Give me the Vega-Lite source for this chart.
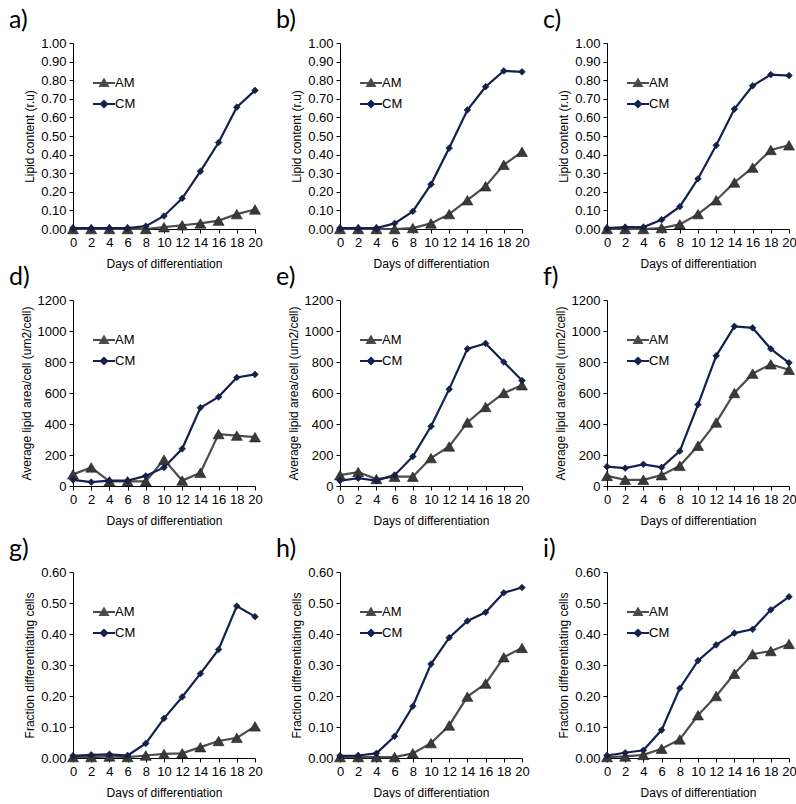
{
 "$schema": "https://vega.github.io/schema/vega-lite/v6.json",
 "padding": {"left": 9, "top": 8, "right": 0, "bottom": 0},
 "background": "white",
 "datasets": {
  "series": [
   {"p":"a","d":0,"AM":0,"CM":0.005},{"p":"a","d":2,"AM":0,"CM":0.005},{"p":"a","d":4,"AM":0,"CM":0.005},{"p":"a","d":6,"AM":0,"CM":0.005},{"p":"a","d":8,"AM":0,"CM":0.015},{"p":"a","d":10,"AM":0.01,"CM":0.07},{"p":"a","d":12,"AM":0.02,"CM":0.165},{"p":"a","d":14,"AM":0.03,"CM":0.31},{"p":"a","d":16,"AM":0.045,"CM":0.465},{"p":"a","d":18,"AM":0.08,"CM":0.655},{"p":"a","d":20,"AM":0.105,"CM":0.745},
   {"p":"b","d":0,"AM":0,"CM":0.005},{"p":"b","d":2,"AM":0,"CM":0.005},{"p":"b","d":4,"AM":0,"CM":0.005},{"p":"b","d":6,"AM":0,"CM":0.03},{"p":"b","d":8,"AM":0.005,"CM":0.095},{"p":"b","d":10,"AM":0.03,"CM":0.24},{"p":"b","d":12,"AM":0.08,"CM":0.435},{"p":"b","d":14,"AM":0.155,"CM":0.64},{"p":"b","d":16,"AM":0.23,"CM":0.765},{"p":"b","d":18,"AM":0.345,"CM":0.85},{"p":"b","d":20,"AM":0.415,"CM":0.845},
   {"p":"c","d":0,"AM":0,"CM":0.005},{"p":"c","d":2,"AM":0,"CM":0.01},{"p":"c","d":4,"AM":0,"CM":0.01},{"p":"c","d":6,"AM":0.005,"CM":0.05},{"p":"c","d":8,"AM":0.025,"CM":0.12},{"p":"c","d":10,"AM":0.08,"CM":0.27},{"p":"c","d":12,"AM":0.155,"CM":0.45},{"p":"c","d":14,"AM":0.25,"CM":0.645},{"p":"c","d":16,"AM":0.33,"CM":0.77},{"p":"c","d":18,"AM":0.425,"CM":0.83},{"p":"c","d":20,"AM":0.45,"CM":0.825},
   {"p":"d","d":0,"AM":75,"CM":40},{"p":"d","d":2,"AM":120,"CM":25},{"p":"d","d":4,"AM":30,"CM":35},{"p":"d","d":6,"AM":30,"CM":35},{"p":"d","d":8,"AM":30,"CM":65},{"p":"d","d":10,"AM":170,"CM":120},{"p":"d","d":12,"AM":35,"CM":240},{"p":"d","d":14,"AM":85,"CM":505},{"p":"d","d":16,"AM":335,"CM":575},{"p":"d","d":18,"AM":325,"CM":700},{"p":"d","d":20,"AM":315,"CM":720},
   {"p":"e","d":0,"AM":70,"CM":35},{"p":"e","d":2,"AM":90,"CM":50},{"p":"e","d":4,"AM":45,"CM":35},{"p":"e","d":6,"AM":60,"CM":70},{"p":"e","d":8,"AM":60,"CM":190},{"p":"e","d":10,"AM":180,"CM":385},{"p":"e","d":12,"AM":255,"CM":625},{"p":"e","d":14,"AM":410,"CM":885},{"p":"e","d":16,"AM":510,"CM":920},{"p":"e","d":18,"AM":600,"CM":800},{"p":"e","d":20,"AM":650,"CM":680},
   {"p":"f","d":0,"AM":65,"CM":125},{"p":"f","d":2,"AM":40,"CM":115},{"p":"f","d":4,"AM":40,"CM":140},{"p":"f","d":6,"AM":70,"CM":120},{"p":"f","d":8,"AM":130,"CM":225},{"p":"f","d":10,"AM":260,"CM":525},{"p":"f","d":12,"AM":410,"CM":840},{"p":"f","d":14,"AM":600,"CM":1030},{"p":"f","d":16,"AM":725,"CM":1020},{"p":"f","d":18,"AM":785,"CM":885},{"p":"f","d":20,"AM":750,"CM":795},
   {"p":"g","d":0,"AM":0.003,"CM":0.007},{"p":"g","d":2,"AM":0.003,"CM":0.01},{"p":"g","d":4,"AM":0.005,"CM":0.012},{"p":"g","d":6,"AM":0.003,"CM":0.008},{"p":"g","d":8,"AM":0.008,"CM":0.047},{"p":"g","d":10,"AM":0.013,"CM":0.128},{"p":"g","d":12,"AM":0.015,"CM":0.197},{"p":"g","d":14,"AM":0.035,"CM":0.272},{"p":"g","d":16,"AM":0.055,"CM":0.35},{"p":"g","d":18,"AM":0.065,"CM":0.49},{"p":"g","d":20,"AM":0.102,"CM":0.456},
   {"p":"h","d":0,"AM":0.003,"CM":0.007},{"p":"h","d":2,"AM":0.003,"CM":0.008},{"p":"h","d":4,"AM":0.003,"CM":0.015},{"p":"h","d":6,"AM":0.003,"CM":0.07},{"p":"h","d":8,"AM":0.015,"CM":0.167},{"p":"h","d":10,"AM":0.048,"CM":0.303},{"p":"h","d":12,"AM":0.105,"CM":0.388},{"p":"h","d":14,"AM":0.198,"CM":0.442},{"p":"h","d":16,"AM":0.24,"CM":0.47},{"p":"h","d":18,"AM":0.325,"CM":0.533},{"p":"h","d":20,"AM":0.355,"CM":0.55},
   {"p":"i","d":0,"AM":0.003,"CM":0.008},{"p":"i","d":2,"AM":0.005,"CM":0.017},{"p":"i","d":4,"AM":0.01,"CM":0.025},{"p":"i","d":6,"AM":0.03,"CM":0.09},{"p":"i","d":8,"AM":0.06,"CM":0.225},{"p":"i","d":10,"AM":0.138,"CM":0.314},{"p":"i","d":12,"AM":0.2,"CM":0.365},{"p":"i","d":14,"AM":0.272,"CM":0.403},{"p":"i","d":16,"AM":0.335,"CM":0.415},{"p":"i","d":18,"AM":0.345,"CM":0.478},{"p":"i","d":20,"AM":0.368,"CM":0.52}
  ],
  "panels": [
   {"p":"a","sub":"0.5x10⁵ cells/mL"},{"p":"b","sub":"2x10⁵ cells/mL"},{"p":"c","sub":"4x10⁵ cells/mL"},
   {"p":"d","sub":"0.5x10⁵ cells/mL"},{"p":"e","sub":"2x10⁵ cells/mL"},{"p":"f","sub":"4x10⁵ cells/mL"},
   {"p":"g","sub":"0.5x10⁵ cells/mL"},{"p":"h","sub":"2x10⁵ cells/mL"},{"p":"i","sub":"4x10⁵ cells/mL"}
  ]
 },
 "config": {
  "view": {"stroke": null},
  "font": "Liberation Sans",
  "axis": {"grid": false, "domainColor": "#000", "tickColor": "#000", "tickSize": 4, "labelFont": "Liberation Sans", "labelFontSize": 13, "labelColor": "#000", "labelOverlap": false, "labelFlush": false, "titleFont": "Liberation Sans", "titleFontSize": 12, "titleFontWeight": "normal", "titleColor": "#000", "labelPadding": 3},
  "axisY": {"titlePadding": 4},
  "axisX": {"titlePadding": 9},
  "title": {"font": "Lato", "fontSize": 25, "fontWeight": "normal", "anchor": "start", "frame": "group", "dx": -64, "offset": 0, "color": "#000"},
  "legend": {"orient": "none", "legendX": 23, "legendY": 32, "labelFontSize": 13, "labelFont": "Liberation Sans", "labelColor": "#000", "symbolSize": 190, "rowPadding": 5, "labelOffset": 3, "padding": 0, "symbolOpacity": 1}
 },
 "spacing": 11,
 "resolve": {"scale": {"color": "independent"}, "legend": {"color": "independent"}},
 "vconcat": [
  {
   "spacing": -4,
   "resolve": {"scale": {"color": "independent"}, "legend": {"color": "independent"}},
   "vconcat": [
    {
     "spacing": 13,
     "resolve": {"scale": {"color": "independent"}, "legend": {"color": "independent"}},
     "hconcat": [
      {"width": 182, "height": 186, "title": "a)",
       "encoding": {"x": {"field": "d", "type": "quantitative", "scale": {"domain": [0, 20], "nice": false}, "axis": {"values": [0,2,4,6,8,10,12,14,16,18,20], "tickCount": 50, "format": "d", "labelOverlap": false, "labelFlush": false, "title": "Days of differentiation"}}},
       "layer": [
       {"data": {"name": "series"}, "transform": [{"filter": "datum.p === 'a'"}, {"fold": ["AM", "CM"], "as": ["s", "v"]}], "mark": {"type": "line", "strokeWidth": 2.2},
        "encoding": {"y": {"field": "v", "type": "quantitative", "scale": {"domain": [0, 1], "nice": false}, "axis": {"values": [0,0.1,0.2,0.3,0.4,0.5,0.6,0.7,0.8,0.9,1], "tickCount": 50, "labelOverlap": false, "labelFlush": false, "format": ".2f", "title": "Lipid content (r.u)"}},
         "color": {"field": "s", "type": "nominal", "scale": {"domain": ["AM", "CM"], "range": ["#4d4d4d", "#14204f"]}, "legend": {"title": null, "encode": {"symbols": {"update": {"shape": {"signal": "datum.value === 'AM' ? 'M-1.6,0H1.6M-0.55,0.45L0,-0.5L0.55,0.45Z' : 'M-1.6,0H1.6M-0.45,0L0,-0.45L0.45,0L0,0.45Z'"}, "fill": {"signal": "datum.value === 'AM' ? '#3a3a3a' : '#14204f'"}, "stroke": {"signal": "datum.value === 'AM' ? '#4d4d4d' : '#14204f'"}, "strokeWidth": {"value": 2}, "opacity": {"value": 1}}}}}}}},
       {"data": {"name": "series"}, "transform": [{"filter": "datum.p === 'a'"}], "mark": {"type": "point", "shape": "triangle-up", "filled": true, "fill": "#3a3a3a", "opacity": 1, "stroke": "#1a1a1a", "strokeWidth": 0.6, "size": 120},
        "encoding": {"y": {"field": "AM", "type": "quantitative", "axis": {"values": [0,0.1,0.2,0.3,0.4,0.5,0.6,0.7,0.8,0.9,1], "tickCount": 50, "labelOverlap": false, "labelFlush": false, "format": ".2f", "title": "Lipid content (r.u)"}}}},
       {"data": {"name": "series"}, "transform": [{"filter": "datum.p === 'a'"}], "mark": {"type": "point", "shape": "diamond", "filled": true, "fill": "#14204f", "opacity": 1, "stroke": "#0d1530", "strokeWidth": 0.6, "size": 45},
        "encoding": {"y": {"field": "CM", "type": "quantitative", "axis": {"values": [0,0.1,0.2,0.3,0.4,0.5,0.6,0.7,0.8,0.9,1], "tickCount": 50, "labelOverlap": false, "labelFlush": false, "format": ".2f", "title": "Lipid content (r.u)"}}}},
       {"data": {"name": "panels"}, "transform": [{"filter": "datum.p === 'a'"}], "mark": {"type": "text", "baseline": "top", "dy": 3, "fontSize": 12, "font": "Liberation Sans", "color": "#000"},
        "encoding": {"x": {"datum": 10, "type": "quantitative", "axis": {"values": [0,2,4,6,8,10,12,14,16,18,20], "tickCount": 50, "format": "d", "labelOverlap": false, "labelFlush": false, "title": "Days of differentiation"}}, "y": {"datum": 1, "type": "quantitative", "axis": {"values": [0,0.1,0.2,0.3,0.4,0.5,0.6,0.7,0.8,0.9,1], "tickCount": 50, "labelOverlap": false, "labelFlush": false, "format": ".2f", "title": "Lipid content (r.u)"}}, "text": {"field": "sub"}}}
      ]},
      {"width": 182, "height": 186, "title": "b)",
       "encoding": {"x": {"field": "d", "type": "quantitative", "scale": {"domain": [0, 20], "nice": false}, "axis": {"values": [0,2,4,6,8,10,12,14,16,18,20], "tickCount": 50, "format": "d", "labelOverlap": false, "labelFlush": false, "title": "Days of differentiation"}}},
       "layer": [
       {"data": {"name": "series"}, "transform": [{"filter": "datum.p === 'b'"}, {"fold": ["AM", "CM"], "as": ["s", "v"]}], "mark": {"type": "line", "strokeWidth": 2.2},
        "encoding": {"y": {"field": "v", "type": "quantitative", "scale": {"domain": [0, 1], "nice": false}, "axis": {"values": [0,0.1,0.2,0.3,0.4,0.5,0.6,0.7,0.8,0.9,1], "tickCount": 50, "labelOverlap": false, "labelFlush": false, "format": ".2f", "title": "Lipid content (r.u)"}},
         "color": {"field": "s", "type": "nominal", "scale": {"domain": ["AM", "CM"], "range": ["#4d4d4d", "#14204f"]}, "legend": {"title": null, "encode": {"symbols": {"update": {"shape": {"signal": "datum.value === 'AM' ? 'M-1.6,0H1.6M-0.55,0.45L0,-0.5L0.55,0.45Z' : 'M-1.6,0H1.6M-0.45,0L0,-0.45L0.45,0L0,0.45Z'"}, "fill": {"signal": "datum.value === 'AM' ? '#3a3a3a' : '#14204f'"}, "stroke": {"signal": "datum.value === 'AM' ? '#4d4d4d' : '#14204f'"}, "strokeWidth": {"value": 2}, "opacity": {"value": 1}}}}}}}},
       {"data": {"name": "series"}, "transform": [{"filter": "datum.p === 'b'"}], "mark": {"type": "point", "shape": "triangle-up", "filled": true, "fill": "#3a3a3a", "opacity": 1, "stroke": "#1a1a1a", "strokeWidth": 0.6, "size": 120},
        "encoding": {"y": {"field": "AM", "type": "quantitative", "axis": {"values": [0,0.1,0.2,0.3,0.4,0.5,0.6,0.7,0.8,0.9,1], "tickCount": 50, "labelOverlap": false, "labelFlush": false, "format": ".2f", "title": "Lipid content (r.u)"}}}},
       {"data": {"name": "series"}, "transform": [{"filter": "datum.p === 'b'"}], "mark": {"type": "point", "shape": "diamond", "filled": true, "fill": "#14204f", "opacity": 1, "stroke": "#0d1530", "strokeWidth": 0.6, "size": 45},
        "encoding": {"y": {"field": "CM", "type": "quantitative", "axis": {"values": [0,0.1,0.2,0.3,0.4,0.5,0.6,0.7,0.8,0.9,1], "tickCount": 50, "labelOverlap": false, "labelFlush": false, "format": ".2f", "title": "Lipid content (r.u)"}}}},
       {"data": {"name": "panels"}, "transform": [{"filter": "datum.p === 'b'"}], "mark": {"type": "text", "baseline": "top", "dy": 3, "fontSize": 12, "font": "Liberation Sans", "color": "#000"},
        "encoding": {"x": {"datum": 10, "type": "quantitative", "axis": {"values": [0,2,4,6,8,10,12,14,16,18,20], "tickCount": 50, "format": "d", "labelOverlap": false, "labelFlush": false, "title": "Days of differentiation"}}, "y": {"datum": 1, "type": "quantitative", "axis": {"values": [0,0.1,0.2,0.3,0.4,0.5,0.6,0.7,0.8,0.9,1], "tickCount": 50, "labelOverlap": false, "labelFlush": false, "format": ".2f", "title": "Lipid content (r.u)"}}, "text": {"field": "sub"}}}
      ]},
      {"width": 182, "height": 186, "title": "c)",
       "encoding": {"x": {"field": "d", "type": "quantitative", "scale": {"domain": [0, 20], "nice": false}, "axis": {"values": [0,2,4,6,8,10,12,14,16,18,20], "tickCount": 50, "format": "d", "labelOverlap": false, "labelFlush": false, "title": "Days of differentiation"}}},
       "layer": [
       {"data": {"name": "series"}, "transform": [{"filter": "datum.p === 'c'"}, {"fold": ["AM", "CM"], "as": ["s", "v"]}], "mark": {"type": "line", "strokeWidth": 2.2},
        "encoding": {"y": {"field": "v", "type": "quantitative", "scale": {"domain": [0, 1], "nice": false}, "axis": {"values": [0,0.1,0.2,0.3,0.4,0.5,0.6,0.7,0.8,0.9,1], "tickCount": 50, "labelOverlap": false, "labelFlush": false, "format": ".2f", "title": "Lipid content (r.u)"}},
         "color": {"field": "s", "type": "nominal", "scale": {"domain": ["AM", "CM"], "range": ["#4d4d4d", "#14204f"]}, "legend": {"title": null, "encode": {"symbols": {"update": {"shape": {"signal": "datum.value === 'AM' ? 'M-1.6,0H1.6M-0.55,0.45L0,-0.5L0.55,0.45Z' : 'M-1.6,0H1.6M-0.45,0L0,-0.45L0.45,0L0,0.45Z'"}, "fill": {"signal": "datum.value === 'AM' ? '#3a3a3a' : '#14204f'"}, "stroke": {"signal": "datum.value === 'AM' ? '#4d4d4d' : '#14204f'"}, "strokeWidth": {"value": 2}, "opacity": {"value": 1}}}}}}}},
       {"data": {"name": "series"}, "transform": [{"filter": "datum.p === 'c'"}], "mark": {"type": "point", "shape": "triangle-up", "filled": true, "fill": "#3a3a3a", "opacity": 1, "stroke": "#1a1a1a", "strokeWidth": 0.6, "size": 120},
        "encoding": {"y": {"field": "AM", "type": "quantitative", "axis": {"values": [0,0.1,0.2,0.3,0.4,0.5,0.6,0.7,0.8,0.9,1], "tickCount": 50, "labelOverlap": false, "labelFlush": false, "format": ".2f", "title": "Lipid content (r.u)"}}}},
       {"data": {"name": "series"}, "transform": [{"filter": "datum.p === 'c'"}], "mark": {"type": "point", "shape": "diamond", "filled": true, "fill": "#14204f", "opacity": 1, "stroke": "#0d1530", "strokeWidth": 0.6, "size": 45},
        "encoding": {"y": {"field": "CM", "type": "quantitative", "axis": {"values": [0,0.1,0.2,0.3,0.4,0.5,0.6,0.7,0.8,0.9,1], "tickCount": 50, "labelOverlap": false, "labelFlush": false, "format": ".2f", "title": "Lipid content (r.u)"}}}},
       {"data": {"name": "panels"}, "transform": [{"filter": "datum.p === 'c'"}], "mark": {"type": "text", "baseline": "top", "dy": 3, "fontSize": 12, "font": "Liberation Sans", "color": "#000"},
        "encoding": {"x": {"datum": 10, "type": "quantitative", "axis": {"values": [0,2,4,6,8,10,12,14,16,18,20], "tickCount": 50, "format": "d", "labelOverlap": false, "labelFlush": false, "title": "Days of differentiation"}}, "y": {"datum": 1, "type": "quantitative", "axis": {"values": [0,0.1,0.2,0.3,0.4,0.5,0.6,0.7,0.8,0.9,1], "tickCount": 50, "labelOverlap": false, "labelFlush": false, "format": ".2f", "title": "Lipid content (r.u)"}}, "text": {"field": "sub"}}}
      ]}
     ]
    },
    {
     "spacing": 13,
     "resolve": {"scale": {"color": "independent"}, "legend": {"color": "independent"}},
     "hconcat": [
      {"width": 182, "height": 186, "title": "d)",
       "encoding": {"x": {"field": "d", "type": "quantitative", "scale": {"domain": [0, 20], "nice": false}, "axis": {"values": [0,2,4,6,8,10,12,14,16,18,20], "tickCount": 50, "format": "d", "labelOverlap": false, "labelFlush": false, "title": "Days of differentiation"}}},
       "layer": [
       {"data": {"name": "series"}, "transform": [{"filter": "datum.p === 'd'"}, {"fold": ["AM", "CM"], "as": ["s", "v"]}], "mark": {"type": "line", "strokeWidth": 2.2},
        "encoding": {"y": {"field": "v", "type": "quantitative", "scale": {"domain": [0, 1200], "nice": false}, "axis": {"values": [0,200,400,600,800,1000,1200], "tickCount": 50, "labelOverlap": false, "labelFlush": false, "format": "d", "title": "Average lipid area/cell (um2/cell)"}},
         "color": {"field": "s", "type": "nominal", "scale": {"domain": ["AM", "CM"], "range": ["#4d4d4d", "#14204f"]}, "legend": {"title": null, "encode": {"symbols": {"update": {"shape": {"signal": "datum.value === 'AM' ? 'M-1.6,0H1.6M-0.55,0.45L0,-0.5L0.55,0.45Z' : 'M-1.6,0H1.6M-0.45,0L0,-0.45L0.45,0L0,0.45Z'"}, "fill": {"signal": "datum.value === 'AM' ? '#3a3a3a' : '#14204f'"}, "stroke": {"signal": "datum.value === 'AM' ? '#4d4d4d' : '#14204f'"}, "strokeWidth": {"value": 2}, "opacity": {"value": 1}}}}}}}},
       {"data": {"name": "series"}, "transform": [{"filter": "datum.p === 'd'"}], "mark": {"type": "point", "shape": "triangle-up", "filled": true, "fill": "#3a3a3a", "opacity": 1, "stroke": "#1a1a1a", "strokeWidth": 0.6, "size": 120},
        "encoding": {"y": {"field": "AM", "type": "quantitative", "axis": {"values": [0,200,400,600,800,1000,1200], "tickCount": 50, "labelOverlap": false, "labelFlush": false, "format": "d", "title": "Average lipid area/cell (um2/cell)"}}}},
       {"data": {"name": "series"}, "transform": [{"filter": "datum.p === 'd'"}], "mark": {"type": "point", "shape": "diamond", "filled": true, "fill": "#14204f", "opacity": 1, "stroke": "#0d1530", "strokeWidth": 0.6, "size": 45},
        "encoding": {"y": {"field": "CM", "type": "quantitative", "axis": {"values": [0,200,400,600,800,1000,1200], "tickCount": 50, "labelOverlap": false, "labelFlush": false, "format": "d", "title": "Average lipid area/cell (um2/cell)"}}}},
       {"data": {"name": "panels"}, "transform": [{"filter": "datum.p === 'd'"}], "mark": {"type": "text", "baseline": "top", "dy": 3, "fontSize": 12, "font": "Liberation Sans", "color": "#000"},
        "encoding": {"x": {"datum": 10, "type": "quantitative", "axis": {"values": [0,2,4,6,8,10,12,14,16,18,20], "tickCount": 50, "format": "d", "labelOverlap": false, "labelFlush": false, "title": "Days of differentiation"}}, "y": {"datum": 1200, "type": "quantitative", "axis": {"values": [0,200,400,600,800,1000,1200], "tickCount": 50, "labelOverlap": false, "labelFlush": false, "format": "d", "title": "Average lipid area/cell (um2/cell)"}}, "text": {"field": "sub"}}}
      ]},
      {"width": 182, "height": 186, "title": "e)",
       "encoding": {"x": {"field": "d", "type": "quantitative", "scale": {"domain": [0, 20], "nice": false}, "axis": {"values": [0,2,4,6,8,10,12,14,16,18,20], "tickCount": 50, "format": "d", "labelOverlap": false, "labelFlush": false, "title": "Days of differentiation"}}},
       "layer": [
       {"data": {"name": "series"}, "transform": [{"filter": "datum.p === 'e'"}, {"fold": ["AM", "CM"], "as": ["s", "v"]}], "mark": {"type": "line", "strokeWidth": 2.2},
        "encoding": {"y": {"field": "v", "type": "quantitative", "scale": {"domain": [0, 1200], "nice": false}, "axis": {"values": [0,200,400,600,800,1000,1200], "tickCount": 50, "labelOverlap": false, "labelFlush": false, "format": "d", "title": "Average lipid area/cell (um2/cell)"}},
         "color": {"field": "s", "type": "nominal", "scale": {"domain": ["AM", "CM"], "range": ["#4d4d4d", "#14204f"]}, "legend": {"title": null, "encode": {"symbols": {"update": {"shape": {"signal": "datum.value === 'AM' ? 'M-1.6,0H1.6M-0.55,0.45L0,-0.5L0.55,0.45Z' : 'M-1.6,0H1.6M-0.45,0L0,-0.45L0.45,0L0,0.45Z'"}, "fill": {"signal": "datum.value === 'AM' ? '#3a3a3a' : '#14204f'"}, "stroke": {"signal": "datum.value === 'AM' ? '#4d4d4d' : '#14204f'"}, "strokeWidth": {"value": 2}, "opacity": {"value": 1}}}}}}}},
       {"data": {"name": "series"}, "transform": [{"filter": "datum.p === 'e'"}], "mark": {"type": "point", "shape": "triangle-up", "filled": true, "fill": "#3a3a3a", "opacity": 1, "stroke": "#1a1a1a", "strokeWidth": 0.6, "size": 120},
        "encoding": {"y": {"field": "AM", "type": "quantitative", "axis": {"values": [0,200,400,600,800,1000,1200], "tickCount": 50, "labelOverlap": false, "labelFlush": false, "format": "d", "title": "Average lipid area/cell (um2/cell)"}}}},
       {"data": {"name": "series"}, "transform": [{"filter": "datum.p === 'e'"}], "mark": {"type": "point", "shape": "diamond", "filled": true, "fill": "#14204f", "opacity": 1, "stroke": "#0d1530", "strokeWidth": 0.6, "size": 45},
        "encoding": {"y": {"field": "CM", "type": "quantitative", "axis": {"values": [0,200,400,600,800,1000,1200], "tickCount": 50, "labelOverlap": false, "labelFlush": false, "format": "d", "title": "Average lipid area/cell (um2/cell)"}}}},
       {"data": {"name": "panels"}, "transform": [{"filter": "datum.p === 'e'"}], "mark": {"type": "text", "baseline": "top", "dy": 3, "fontSize": 12, "font": "Liberation Sans", "color": "#000"},
        "encoding": {"x": {"datum": 10, "type": "quantitative", "axis": {"values": [0,2,4,6,8,10,12,14,16,18,20], "tickCount": 50, "format": "d", "labelOverlap": false, "labelFlush": false, "title": "Days of differentiation"}}, "y": {"datum": 1200, "type": "quantitative", "axis": {"values": [0,200,400,600,800,1000,1200], "tickCount": 50, "labelOverlap": false, "labelFlush": false, "format": "d", "title": "Average lipid area/cell (um2/cell)"}}, "text": {"field": "sub"}}}
      ]},
      {"width": 182, "height": 186, "title": "f)",
       "encoding": {"x": {"field": "d", "type": "quantitative", "scale": {"domain": [0, 20], "nice": false}, "axis": {"values": [0,2,4,6,8,10,12,14,16,18,20], "tickCount": 50, "format": "d", "labelOverlap": false, "labelFlush": false, "title": "Days of differentiation"}}},
       "layer": [
       {"data": {"name": "series"}, "transform": [{"filter": "datum.p === 'f'"}, {"fold": ["AM", "CM"], "as": ["s", "v"]}], "mark": {"type": "line", "strokeWidth": 2.2},
        "encoding": {"y": {"field": "v", "type": "quantitative", "scale": {"domain": [0, 1200], "nice": false}, "axis": {"values": [0,200,400,600,800,1000,1200], "tickCount": 50, "labelOverlap": false, "labelFlush": false, "format": "d", "title": "Average lipid area/cell (um2/cell)"}},
         "color": {"field": "s", "type": "nominal", "scale": {"domain": ["AM", "CM"], "range": ["#4d4d4d", "#14204f"]}, "legend": {"title": null, "encode": {"symbols": {"update": {"shape": {"signal": "datum.value === 'AM' ? 'M-1.6,0H1.6M-0.55,0.45L0,-0.5L0.55,0.45Z' : 'M-1.6,0H1.6M-0.45,0L0,-0.45L0.45,0L0,0.45Z'"}, "fill": {"signal": "datum.value === 'AM' ? '#3a3a3a' : '#14204f'"}, "stroke": {"signal": "datum.value === 'AM' ? '#4d4d4d' : '#14204f'"}, "strokeWidth": {"value": 2}, "opacity": {"value": 1}}}}}}}},
       {"data": {"name": "series"}, "transform": [{"filter": "datum.p === 'f'"}], "mark": {"type": "point", "shape": "triangle-up", "filled": true, "fill": "#3a3a3a", "opacity": 1, "stroke": "#1a1a1a", "strokeWidth": 0.6, "size": 120},
        "encoding": {"y": {"field": "AM", "type": "quantitative", "axis": {"values": [0,200,400,600,800,1000,1200], "tickCount": 50, "labelOverlap": false, "labelFlush": false, "format": "d", "title": "Average lipid area/cell (um2/cell)"}}}},
       {"data": {"name": "series"}, "transform": [{"filter": "datum.p === 'f'"}], "mark": {"type": "point", "shape": "diamond", "filled": true, "fill": "#14204f", "opacity": 1, "stroke": "#0d1530", "strokeWidth": 0.6, "size": 45},
        "encoding": {"y": {"field": "CM", "type": "quantitative", "axis": {"values": [0,200,400,600,800,1000,1200], "tickCount": 50, "labelOverlap": false, "labelFlush": false, "format": "d", "title": "Average lipid area/cell (um2/cell)"}}}},
       {"data": {"name": "panels"}, "transform": [{"filter": "datum.p === 'f'"}], "mark": {"type": "text", "baseline": "top", "dy": 3, "fontSize": 12, "font": "Liberation Sans", "color": "#000"},
        "encoding": {"x": {"datum": 10, "type": "quantitative", "axis": {"values": [0,2,4,6,8,10,12,14,16,18,20], "tickCount": 50, "format": "d", "labelOverlap": false, "labelFlush": false, "title": "Days of differentiation"}}, "y": {"datum": 1200, "type": "quantitative", "axis": {"values": [0,200,400,600,800,1000,1200], "tickCount": 50, "labelOverlap": false, "labelFlush": false, "format": "d", "title": "Average lipid area/cell (um2/cell)"}}, "text": {"field": "sub"}}}
      ]}
     ]
    }
   ]
  },
  {
   "spacing": 13,
   "resolve": {"scale": {"color": "independent"}, "legend": {"color": "independent"}},
   "hconcat": [
    {"width": 182, "height": 186, "title": "g)",
     "encoding": {"x": {"field": "d", "type": "quantitative", "scale": {"domain": [0, 20], "nice": false}, "axis": {"values": [0,2,4,6,8,10,12,14,16,18,20], "tickCount": 50, "format": "d", "labelOverlap": false, "labelFlush": false, "title": "Days of differentiation"}}},
     "layer": [
     {"data": {"name": "series"}, "transform": [{"filter": "datum.p === 'g'"}, {"fold": ["AM", "CM"], "as": ["s", "v"]}], "mark": {"type": "line", "strokeWidth": 2.2},
      "encoding": {"y": {"field": "v", "type": "quantitative", "scale": {"domain": [0, 0.6], "nice": false}, "axis": {"values": [0,0.1,0.2,0.3,0.4,0.5,0.6], "tickCount": 50, "labelOverlap": false, "labelFlush": false, "format": ".2f", "title": "Fraction differentiating cells"}},
       "color": {"field": "s", "type": "nominal", "scale": {"domain": ["AM", "CM"], "range": ["#4d4d4d", "#14204f"]}, "legend": {"title": null, "encode": {"symbols": {"update": {"shape": {"signal": "datum.value === 'AM' ? 'M-1.6,0H1.6M-0.55,0.45L0,-0.5L0.55,0.45Z' : 'M-1.6,0H1.6M-0.45,0L0,-0.45L0.45,0L0,0.45Z'"}, "fill": {"signal": "datum.value === 'AM' ? '#3a3a3a' : '#14204f'"}, "stroke": {"signal": "datum.value === 'AM' ? '#4d4d4d' : '#14204f'"}, "strokeWidth": {"value": 2}, "opacity": {"value": 1}}}}}}}},
     {"data": {"name": "series"}, "transform": [{"filter": "datum.p === 'g'"}], "mark": {"type": "point", "shape": "triangle-up", "filled": true, "fill": "#3a3a3a", "opacity": 1, "stroke": "#1a1a1a", "strokeWidth": 0.6, "size": 120},
      "encoding": {"y": {"field": "AM", "type": "quantitative", "axis": {"values": [0,0.1,0.2,0.3,0.4,0.5,0.6], "tickCount": 50, "labelOverlap": false, "labelFlush": false, "format": ".2f", "title": "Fraction differentiating cells"}}}},
     {"data": {"name": "series"}, "transform": [{"filter": "datum.p === 'g'"}], "mark": {"type": "point", "shape": "diamond", "filled": true, "fill": "#14204f", "opacity": 1, "stroke": "#0d1530", "strokeWidth": 0.6, "size": 45},
      "encoding": {"y": {"field": "CM", "type": "quantitative", "axis": {"values": [0,0.1,0.2,0.3,0.4,0.5,0.6], "tickCount": 50, "labelOverlap": false, "labelFlush": false, "format": ".2f", "title": "Fraction differentiating cells"}}}},
     {"data": {"name": "panels"}, "transform": [{"filter": "datum.p === 'g'"}], "mark": {"type": "text", "baseline": "top", "dy": 3, "fontSize": 12, "font": "Liberation Sans", "color": "#000"},
      "encoding": {"x": {"datum": 10, "type": "quantitative", "axis": {"values": [0,2,4,6,8,10,12,14,16,18,20], "tickCount": 50, "format": "d", "labelOverlap": false, "labelFlush": false, "title": "Days of differentiation"}}, "y": {"datum": 0.6, "type": "quantitative", "axis": {"values": [0,0.1,0.2,0.3,0.4,0.5,0.6], "tickCount": 50, "labelOverlap": false, "labelFlush": false, "format": ".2f", "title": "Fraction differentiating cells"}}, "text": {"field": "sub"}}}
    ]},
    {"width": 182, "height": 186, "title": "h)",
     "encoding": {"x": {"field": "d", "type": "quantitative", "scale": {"domain": [0, 20], "nice": false}, "axis": {"values": [0,2,4,6,8,10,12,14,16,18,20], "tickCount": 50, "format": "d", "labelOverlap": false, "labelFlush": false, "title": "Days of differentiation"}}},
     "layer": [
     {"data": {"name": "series"}, "transform": [{"filter": "datum.p === 'h'"}, {"fold": ["AM", "CM"], "as": ["s", "v"]}], "mark": {"type": "line", "strokeWidth": 2.2},
      "encoding": {"y": {"field": "v", "type": "quantitative", "scale": {"domain": [0, 0.6], "nice": false}, "axis": {"values": [0,0.1,0.2,0.3,0.4,0.5,0.6], "tickCount": 50, "labelOverlap": false, "labelFlush": false, "format": ".2f", "title": "Fraction differentiating cells"}},
       "color": {"field": "s", "type": "nominal", "scale": {"domain": ["AM", "CM"], "range": ["#4d4d4d", "#14204f"]}, "legend": {"title": null, "encode": {"symbols": {"update": {"shape": {"signal": "datum.value === 'AM' ? 'M-1.6,0H1.6M-0.55,0.45L0,-0.5L0.55,0.45Z' : 'M-1.6,0H1.6M-0.45,0L0,-0.45L0.45,0L0,0.45Z'"}, "fill": {"signal": "datum.value === 'AM' ? '#3a3a3a' : '#14204f'"}, "stroke": {"signal": "datum.value === 'AM' ? '#4d4d4d' : '#14204f'"}, "strokeWidth": {"value": 2}, "opacity": {"value": 1}}}}}}}},
     {"data": {"name": "series"}, "transform": [{"filter": "datum.p === 'h'"}], "mark": {"type": "point", "shape": "triangle-up", "filled": true, "fill": "#3a3a3a", "opacity": 1, "stroke": "#1a1a1a", "strokeWidth": 0.6, "size": 120},
      "encoding": {"y": {"field": "AM", "type": "quantitative", "axis": {"values": [0,0.1,0.2,0.3,0.4,0.5,0.6], "tickCount": 50, "labelOverlap": false, "labelFlush": false, "format": ".2f", "title": "Fraction differentiating cells"}}}},
     {"data": {"name": "series"}, "transform": [{"filter": "datum.p === 'h'"}], "mark": {"type": "point", "shape": "diamond", "filled": true, "fill": "#14204f", "opacity": 1, "stroke": "#0d1530", "strokeWidth": 0.6, "size": 45},
      "encoding": {"y": {"field": "CM", "type": "quantitative", "axis": {"values": [0,0.1,0.2,0.3,0.4,0.5,0.6], "tickCount": 50, "labelOverlap": false, "labelFlush": false, "format": ".2f", "title": "Fraction differentiating cells"}}}},
     {"data": {"name": "panels"}, "transform": [{"filter": "datum.p === 'h'"}], "mark": {"type": "text", "baseline": "top", "dy": 3, "fontSize": 12, "font": "Liberation Sans", "color": "#000"},
      "encoding": {"x": {"datum": 10, "type": "quantitative", "axis": {"values": [0,2,4,6,8,10,12,14,16,18,20], "tickCount": 50, "format": "d", "labelOverlap": false, "labelFlush": false, "title": "Days of differentiation"}}, "y": {"datum": 0.6, "type": "quantitative", "axis": {"values": [0,0.1,0.2,0.3,0.4,0.5,0.6], "tickCount": 50, "labelOverlap": false, "labelFlush": false, "format": ".2f", "title": "Fraction differentiating cells"}}, "text": {"field": "sub"}}}
    ]},
    {"width": 182, "height": 186, "title": "i)",
     "encoding": {"x": {"field": "d", "type": "quantitative", "scale": {"domain": [0, 20], "nice": false}, "axis": {"values": [0,2,4,6,8,10,12,14,16,18,20], "tickCount": 50, "format": "d", "labelOverlap": false, "labelFlush": false, "title": "Days of differentiation"}}},
     "layer": [
     {"data": {"name": "series"}, "transform": [{"filter": "datum.p === 'i'"}, {"fold": ["AM", "CM"], "as": ["s", "v"]}], "mark": {"type": "line", "strokeWidth": 2.2},
      "encoding": {"y": {"field": "v", "type": "quantitative", "scale": {"domain": [0, 0.6], "nice": false}, "axis": {"values": [0,0.1,0.2,0.3,0.4,0.5,0.6], "tickCount": 50, "labelOverlap": false, "labelFlush": false, "format": ".2f", "title": "Fraction differentiating cells"}},
       "color": {"field": "s", "type": "nominal", "scale": {"domain": ["AM", "CM"], "range": ["#4d4d4d", "#14204f"]}, "legend": {"title": null, "encode": {"symbols": {"update": {"shape": {"signal": "datum.value === 'AM' ? 'M-1.6,0H1.6M-0.55,0.45L0,-0.5L0.55,0.45Z' : 'M-1.6,0H1.6M-0.45,0L0,-0.45L0.45,0L0,0.45Z'"}, "fill": {"signal": "datum.value === 'AM' ? '#3a3a3a' : '#14204f'"}, "stroke": {"signal": "datum.value === 'AM' ? '#4d4d4d' : '#14204f'"}, "strokeWidth": {"value": 2}, "opacity": {"value": 1}}}}}}}},
     {"data": {"name": "series"}, "transform": [{"filter": "datum.p === 'i'"}], "mark": {"type": "point", "shape": "triangle-up", "filled": true, "fill": "#3a3a3a", "opacity": 1, "stroke": "#1a1a1a", "strokeWidth": 0.6, "size": 120},
      "encoding": {"y": {"field": "AM", "type": "quantitative", "axis": {"values": [0,0.1,0.2,0.3,0.4,0.5,0.6], "tickCount": 50, "labelOverlap": false, "labelFlush": false, "format": ".2f", "title": "Fraction differentiating cells"}}}},
     {"data": {"name": "series"}, "transform": [{"filter": "datum.p === 'i'"}], "mark": {"type": "point", "shape": "diamond", "filled": true, "fill": "#14204f", "opacity": 1, "stroke": "#0d1530", "strokeWidth": 0.6, "size": 45},
      "encoding": {"y": {"field": "CM", "type": "quantitative", "axis": {"values": [0,0.1,0.2,0.3,0.4,0.5,0.6], "tickCount": 50, "labelOverlap": false, "labelFlush": false, "format": ".2f", "title": "Fraction differentiating cells"}}}},
     {"data": {"name": "panels"}, "transform": [{"filter": "datum.p === 'i'"}], "mark": {"type": "text", "baseline": "top", "dy": 3, "fontSize": 12, "font": "Liberation Sans", "color": "#000"},
      "encoding": {"x": {"datum": 10, "type": "quantitative", "axis": {"values": [0,2,4,6,8,10,12,14,16,18,20], "tickCount": 50, "format": "d", "labelOverlap": false, "labelFlush": false, "title": "Days of differentiation"}}, "y": {"datum": 0.6, "type": "quantitative", "axis": {"values": [0,0.1,0.2,0.3,0.4,0.5,0.6], "tickCount": 50, "labelOverlap": false, "labelFlush": false, "format": ".2f", "title": "Fraction differentiating cells"}}, "text": {"field": "sub"}}}
    ]}
   ]
  }
 ]
}
